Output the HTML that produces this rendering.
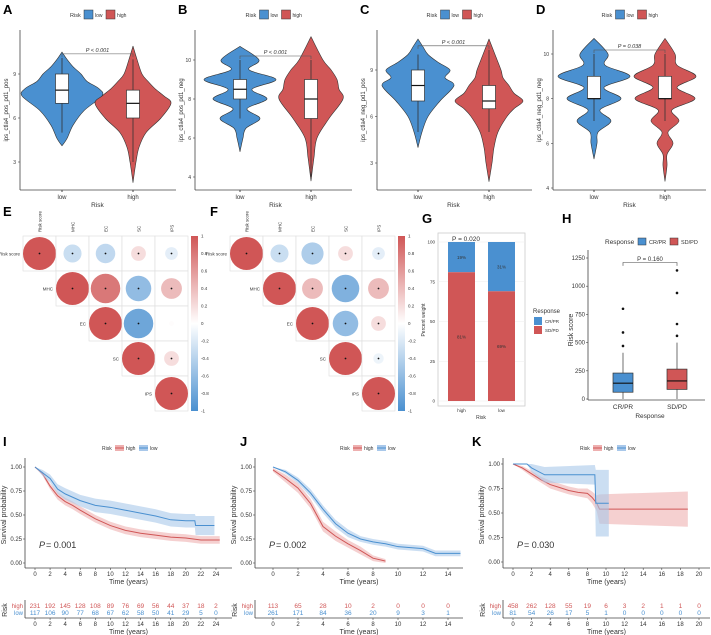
<!DOCTYPE html>
<html><head><meta charset="utf-8"><style>
body{margin:0;background:#fff;}
svg{display:block;font-family:"Liberation Sans",Arial,sans-serif;}
</style></head><body>
<svg id="fig" width="711" height="635" viewBox="0 0 711 635" xmlns="http://www.w3.org/2000/svg"></svg>
<script>
const BLUE="#4a90d0",RED="#d05656",BLUEL="#a9c8ea",REDL="#eeb0b0";
// ---- Violin data ----
const vioLabels=["A","B","C","D"];
const vioYTitles=["ips_ctla4_pos_pd1_pos","ips_ctla4_pos_pd1_neg","ips_ctla4_neg_pd1_pos","ips_ctla4_neg_pd1_neg"];
const vioP=["P < 0.001","P < 0.001","P < 0.001","P = 0.038"];
const vioTicks=[[3,6,9],[4,6,8,10],[3,6,9],[4,6,8,10]];
const lowA=[[4.1,0],[4.6,5],[5.5,11],[6.5,22],[7.5,40],[8,37],[8.5,25],[9,19],[9.5,11],[10,5],[10.5,0]];
const highA=[[1.6,0],[3,3],[4,6],[5,13],[6,28],[7,38],[7.5,31],[8,22],[8.5,15],[9,9],[10,4],[10.9,0]];
const lowB=[[5.3,0],[6,3],[6.5,6],[7,20],[7.5,7],[8,27],[8.5,12],[9,36],[9.5,9],[10,19],[10.7,0]];
const highB=[[3.8,0],[5,3],[6,6],[7,18],[8,32],[8.5,28],[9,26],[9.5,20],[10,12],[11.2,0]];
const lowC=[[4,0],[5,4],[6,10],[7,22],[8,36],[8.5,27],[9,32],[9.5,20],[10,10],[10.5,5],[11,0]];
const highC=[[1.8,0],[3,3],[4,5],[5,9],[6,18],[6.5,25],[7,34],[7.5,25],[8,20],[8.5,14],[9,12],[10,6],[11,0]];
const lowD=[[5.3,0],[6,3],[6.5,4],[7,17],[7.5,6],[8,27],[8.5,10],[9,36],[9.5,11],[10,14],[10.7,0]];
const highD=[[4.3,0],[5,2],[5.5,2],[6,8],[6.5,3],[7,14],[7.5,7],[8,30],[8.5,12],[9,31],[9.5,12],[10,10],[10.7,0]];
const vioData=[[lowA,highA],[lowB,highB],[lowC,highC],[lowD,highD]];
const boxLow=[[5,7,7.9,9,10.1],[7,8,8.5,9,10],[5,7,8,9,10],[7,8,8,9,10]];
const boxHigh=[[3,6,7,7.9,10],[4,7,8,9,10],[5,6.5,7,8,10.3],[7,8,8,9,10]];
const vioLay=[[20,176,62,133,[9,74],[3,162]],[195,352,240,311,[10,60],[4,177]],[377,532,418,489,[9,70],[3,163]],[553,706,594,665,[10,54],[4,188]]];

// ---- Correlation data ----
const corrVars=["Risk score","MHC","EC","SC","IPS"];
const corrE=[[1,-0.3,-0.35,0.2,-0.15],[0,1,0.8,-0.6,0.4],[0,0,1,-0.8,0.02],[0,0,0,1,0.2],[0,0,0,0,1]];
const corrF=[[1,-0.3,-0.45,0.2,-0.15],[0,1,0.4,-0.7,0.4],[0,0,1,-0.6,0.2],[0,0,0,1,-0.1],[0,0,0,0,1]];
const cbTicks=[1,0.8,0.6,0.4,0.2,0,-0.2,-0.4,-0.6,-0.8,-1];

// ---- G data ----
const gCats=["high","low"];
const gCR=[19,31];
const gSD=[81,69];
const gTicks=[0,25,50,75,100];
// ---- H data ----
const hCats=["CR/PR","SD/PD"];
const hBox=[[0,60,140,230,410],[0,85,160,265,500]];
const hOut=[[470,590,800],[560,665,940,1140]];
const hTicks=[0,250,500,750,1000,1250];

// ---- KM data ----
const kmI_high=[[0,1],[1,0.93],[2,0.8],[3,0.7],[4,0.64],[5,0.6],[6,0.55],[8,0.46],[10,0.39],[12,0.34],[14,0.31],[16,0.29],[18,0.27],[20,0.26],[22,0.24],[24.5,0.24]];
const kmI_low=[[0,1],[1,0.94],[2,0.88],[3,0.77],[4,0.72],[6,0.65],[8,0.6],[10,0.58],[12,0.55],[14,0.52],[16,0.49],[18,0.45],[20,0.44],[21.2,0.44],[21.3,0.39],[23.8,0.39]];
const kmJ_high=[[0,0.97],[1,0.88],[2,0.78],[3,0.62],[3.5,0.5],[4,0.38],[5,0.28],[6,0.2],[7,0.13],[8,0.05],[9,0.02]];
const kmJ_low=[[0,1],[1,0.95],[2,0.86],[3,0.73],[4,0.56],[5,0.41],[6,0.31],[7,0.25],[8,0.22],[9,0.2],[10,0.17],[12,0.15],[13,0.1],[15,0.1]];
const kmK_high=[[0,1],[1,0.96],[2,0.9],[3,0.84],[4,0.79],[5,0.76],[6,0.73],[7,0.71],[8,0.7],[8.5,0.66],[9,0.6],[9.3,0.54],[18.8,0.54]];
const kmK_low=[[0,1],[1.5,1],[2,0.96],[3.4,0.89],[8.8,0.89],[8.9,0.6],[10.3,0.6]];
// confidence half-widths per point
const bandI_high=[0,0.02,0.03,0.04,0.04,0.04,0.04,0.04,0.04,0.04,0.04,0.04,0.04,0.04,0.04,0.04];
const bandI_low=[0,0.03,0.04,0.05,0.06,0.06,0.07,0.07,0.07,0.07,0.07,0.07,0.07,0.07,0.1,0.1];
const bandJ_high=[0.02,0.04,0.05,0.05,0.05,0.05,0.05,0.04,0.04,0.03,0.02];
const bandJ_low=[0,0.02,0.03,0.04,0.04,0.04,0.04,0.03,0.03,0.03,0.03,0.03,0.03,0.03];
const bandK_high=[0,0.02,0.03,0.03,0.04,0.04,0.04,0.04,0.05,0.06,0.08,0.15,0.18];
const bandK_low=[0,0,0.04,0.08,0.1,0.34,0.34];
const kmP=["0.001","0.002","0.030"];
const riskI_high=[231,192,145,128,108,89,76,69,56,44,37,18,2];
const riskI_low=[117,106,90,77,68,67,62,58,50,41,29,5,0];
const riskJ_high=[113,65,28,10,2,0,0,0];
const riskJ_low=[261,171,84,36,20,9,3,1];
const riskK_high=[458,262,128,55,19,6,3,2,1,1,0];
const riskK_low=[81,54,26,17,5,1,0,0,0,0,0];
const kmLay=[{ax:25,x0:35,xs:7.54,xmax:24,step:2,end:232,y1:467,y0:563,lbl:"I",lx:3,leg:102,hi:kmI_high,lo:kmI_low,bh:bandI_high,bl:bandI_low,rh:riskI_high,rl:riskI_low},
 {ax:255,x0:273,xs:12.5,xmax:14,step:2,end:463,y1:467,y0:563,lbl:"J",lx:240,leg:340,hi:kmJ_high,lo:kmJ_low,bh:bandJ_high,bl:bandJ_low,rh:riskJ_high,rl:riskJ_low},
 {ax:503,x0:513,xs:9.3,xmax:20,step:2,end:710,y1:464,y0:562,lbl:"K",lx:472,leg:580,hi:kmK_high,lo:kmK_low,bh:bandK_high,bl:bandK_low,rh:riskK_high,rl:riskK_low}];

const svg=document.getElementById('fig');
const NS="http://www.w3.org/2000/svg";
function el(tag,attrs,parent){const e=document.createElementNS(NS,tag);for(const k in attrs)e.setAttribute(k,attrs[k]);(parent||svg).appendChild(e);return e;}
function txt(x,y,s,size,attrs,parent){const t=el('text',Object.assign({x:x,y:y,'font-size':size,fill:'#333'},attrs||{}),parent);t.textContent=s;return t;}
function smooth(P){
  let d="";
  for(let i=0;i<P.length-1;i++){
    const p0=P[Math.max(0,i-1)],p1=P[i],p2=P[i+1],p3=P[Math.min(P.length-1,i+2)];
    const c1=[p1[0]+(p2[0]-p0[0])/6,p1[1]+(p2[1]-p0[1])/6],c2=[p2[0]-(p3[0]-p1[0])/6,p2[1]-(p3[1]-p1[1])/6];
    d+=` C${c1[0]},${c1[1]} ${c2[0]},${c2[1]} ${p2[0]},${p2[1]}`;
  }
  return d;
}

// ===== Violins =====
vioLay.forEach((L,i)=>{
  const g=el('g',{});
  
  
  const [ax,aend,cl,ch,p1,p2]=L;
  const sc=(p2[1]-p1[1])/(p2[0]-p1[0]);
  const Y=v=>p1[1]+(v-p1[0])*sc;
  const pl=txt(ax-17,14,vioLabels[i],13,{'font-weight':'bold',fill:'#000'},g);
  
  const lx=(ax+aend)/2-28;
  txt(lx,17,"Risk",5.5,{},g);
  el('rect',{x:lx+14,y:10,width:9,height:9,fill:BLUE,stroke:'#333','stroke-width':0.5},g);
  txt(lx+25,17,"low",5,{},g);
  el('rect',{x:lx+36,y:10,width:9,height:9,fill:RED,stroke:'#333','stroke-width':0.5},g);
  txt(lx+47,17,"high",5,{},g);
  el('line',{x1:ax,y1:30,x2:ax,y2:190,stroke:'#444','stroke-width':0.8},g);
  el('line',{x1:ax,y1:190,x2:aend,y2:190,stroke:'#444','stroke-width':0.8},g);
  vioTicks[i].forEach(t=>{el('line',{x1:ax-2,y1:Y(t),x2:ax,y2:Y(t),stroke:'#444','stroke-width':0.6},g);txt(ax-4,Y(t)+2,String(t),5,{'text-anchor':'end'},g);});
  txt(0,0,vioYTitles[i],6,{transform:`translate(${ax-12},110) rotate(-90)`,'text-anchor':'middle'},g);
  [cl,ch].forEach((cx,j)=>{el('line',{x1:cx,y1:190,x2:cx,y2:192,stroke:'#444'},g);txt(cx,199,j?"high":"low",6,{'text-anchor':'middle'},g);});
  txt((cl+ch)/2,207,"Risk",6.5,{'text-anchor':'middle'},g);
  [[cl,vioData[i][0],BLUE,boxLow[i]],[ch,vioData[i][1],RED,boxHigh[i]]].forEach(([cx,prof,col,bx],j)=>{
    const right=prof.map(p=>[cx+p[1],Y(p[0])]);
    const left=prof.slice().reverse().map(p=>[cx-p[1],Y(p[0])]);
    const d="M"+right[0][0]+","+right[0][1]+smooth(right)+smooth(left)+"Z";
    const v=el('path',{d:d,fill:col,stroke:'#333','stroke-width':0.6,'stroke-linejoin':'round'},g);
    
    el('line',{x1:cx,y1:Y(bx[0]),x2:cx,y2:Y(bx[4]),stroke:'#333','stroke-width':0.8},g);
    const b=el('rect',{x:cx-6.5,y:Y(bx[3]),width:13,height:Y(bx[1])-Y(bx[3]),fill:'#fff',stroke:'#333','stroke-width':0.7},g);
    
    el('line',{x1:cx-6.5,y1:Y(bx[2]),x2:cx+6.5,y2:Y(bx[2]),stroke:'#111','stroke-width':1.2},g);
  });
  const top=Y(Math.max(boxLow[i][4],boxHigh[i][4]))-4;
  el('path',{d:`M${cl},${top+3} V${top} H${ch} V${top+3}`,fill:'none',stroke:'#555','stroke-width':0.6},g);
  txt((cl+ch)/2,top-2,vioP[i],5.5,{'text-anchor':'middle','font-style':'italic'},g);
});

// ===== Correlation =====
function corrCol(v){const a=Math.abs(v);const base=v>0?[208,86,86]:[74,144,208];const c=base.map(x=>Math.round(255-(255-x)*a));return `rgb(${c})`;}
function corrPanel(x0,y0,cw,ch,M,lbl,name){
  const g=el('g',{});
  
  
  txt(x0-20,y0-20,lbl,13,{'font-weight':'bold',fill:'#000'},g);
  corrVars.forEach((v,c)=>{txt(0,0,v,4.5,{transform:`translate(${x0+c*cw+cw/2+2},${y0-4}) rotate(-90)`},g);
    txt(x0+c*cw-3,y0+c*ch+ch/2+2,v,4.5,{'text-anchor':'end'},g);});
  for(let r=0;r<5;r++)for(let c=r;c<5;c++){
    el('rect',{x:x0+c*cw,y:y0+r*ch,width:cw,height:ch,fill:'#fff',stroke:'#ddd','stroke-width':0.6},g);
    const val=M[r][c];
    const circ=el('circle',{cx:x0+c*cw+cw/2,cy:y0+r*ch+ch/2,r:Math.sqrt(Math.abs(val))*cw/2,fill:corrCol(val)},g);
    
    if(Math.abs(val)>0.05)el('circle',{cx:x0+c*cw+cw/2,cy:y0+r*ch+ch/2,r:0.9,fill:'#111'},g);
  }
  const cbx=x0+5*cw+3,H=5*ch;
  const gid='cb'+lbl;
  const lg=el('linearGradient',{id:gid,x1:0,y1:0,x2:0,y2:1},el('defs',{},g));
  [[0,RED],[0.5,'#ffffff'],[1,BLUE]].forEach(s=>el('stop',{offset:s[0],'stop-color':s[1]},lg));
  el('rect',{x:cbx,y:y0,width:7,height:H,fill:`url(#${gid})`},g);
  cbTicks.forEach(t=>{const yy=y0+(1-t)/2*H;txt(cbx+10,yy+1.5,String(t),4.5,{},g);});
}
corrPanel(23,236,33,35,corrE,"E","corr-matrix-e");
corrPanel(230,236,33,35,corrF,"F","corr-matrix-f");

// ===== G stacked bars =====
(function(){
  const g=el('g',{});
  
  
  txt(422,223,"G",13,{'font-weight':'bold',fill:'#000'},g);
  const x0=438,x1=525,top=233,bot=406;
  const Y=v=>401-v*(401-242)/100;
  el('rect',{x:x0,y:top,width:x1-x0,height:bot-top,fill:'#fff',stroke:'#ccc','stroke-width':0.8},g);
  gTicks.forEach(t=>{el('line',{x1:x0,y1:Y(t),x2:x1,y2:Y(t),stroke:'#eee','stroke-width':0.6},g);txt(x0-3,Y(t)+1.5,String(t),4.5,{'text-anchor':'end'},g);});
  txt(466,241,"P = 0.020",6.5,{'text-anchor':'middle'},g);
  gCats.forEach((c,i)=>{
    const bx=448+i*40,bw=27;
    const r1=el('rect',{x:bx,y:Y(100),width:bw,height:Y(gSD[i])-Y(100),fill:BLUE},g);
    
    const r2=el('rect',{x:bx,y:Y(gSD[i]),width:bw,height:Y(0)-Y(gSD[i]),fill:RED},g);
    
    txt(bx+bw/2,(Y(100)+Y(gSD[i]))/2+2,gCR[i]+"%",4.5,{'text-anchor':'middle'},g);
    txt(bx+bw/2,(Y(0)+Y(gSD[i]))/2+2,gSD[i]+"%",4.5,{'text-anchor':'middle'},g);
    txt(bx+bw/2,412,c,4.5,{'text-anchor':'middle'},g);
  });
  txt(481,419,"Risk",5,{'text-anchor':'middle'},g);
  txt(0,0,"Percent weight",5,{transform:'translate(425,320) rotate(-90)','text-anchor':'middle'},g);
  txt(533,313,"Response",6,{},g);
  el('rect',{x:534,y:317,width:8,height:8,fill:BLUE},g);txt(545,323,"CR/PR",4.5,{},g);
  el('rect',{x:534,y:326,width:8,height:8,fill:RED},g);txt(545,332,"SD/PD",4.5,{},g);
})();

// ===== H boxplot =====
(function(){
  const g=el('g',{});
  
  
  txt(562,223,"H",13,{'font-weight':'bold',fill:'#000'},g);
  const ax=588,Y=v=>399-v*(399-258)/1250;
  txt(605,244,"Response",6.5,{},g);
  el('rect',{x:638,y:238,width:8,height:7,fill:BLUE,stroke:'#333','stroke-width':0.5},g);txt(649,244,"CR/PR",5.5,{},g);
  el('rect',{x:670,y:238,width:8,height:7,fill:RED,stroke:'#333','stroke-width':0.5},g);txt(681,244,"SD/PD",5.5,{},g);
  el('line',{x1:ax,y1:250,x2:ax,y2:400,stroke:'#444','stroke-width':0.8},g);
  el('line',{x1:ax,y1:400,x2:705,y2:400,stroke:'#444','stroke-width':0.8},g);
  hTicks.forEach(t=>{el('line',{x1:ax-2,y1:Y(t),x2:ax,y2:Y(t),stroke:'#444','stroke-width':0.6},g);txt(ax-3,Y(t)+2,String(t),6,{'text-anchor':'end'},g);});
  txt(0,0,"Risk score",7,{transform:'translate(573,330) rotate(-90)','text-anchor':'middle'},g);
  hCats.forEach((c,i)=>{
    const cx=623+i*54,b=hBox[i],col=i?RED:BLUE;
    el('line',{x1:cx,y1:Y(b[0]),x2:cx,y2:Y(b[4]),stroke:'#333','stroke-width':0.7},g);
    const r=el('rect',{x:cx-10,y:Y(b[3]),width:20,height:Y(b[1])-Y(b[3]),fill:col,stroke:'#333','stroke-width':0.7},g);
    
    el('line',{x1:cx-10,y1:Y(b[2]),x2:cx+10,y2:Y(b[2]),stroke:'#111','stroke-width':1.2},g);
    hOut[i].forEach(o=>el('circle',{cx:cx,cy:Y(o),r:1.3,fill:'#111'},g));
    txt(cx,409,c,6.5,{'text-anchor':'middle'},g);
  });
  txt(650,418,"Response",6.5,{'text-anchor':'middle'},g);
  el('path',{d:`M623,${Y(1180)} V${Y(1210)} H677 V${Y(1180)}`,fill:'none',stroke:'#444','stroke-width':0.6},g);
  txt(650,Y(1225),"P = 0.160",6,{'text-anchor':'middle'},g);
})();

// ===== KM =====
kmLay.forEach((L,i)=>{
  const g=el('g',{});
  
  
  const X=t=>L.x0+t*L.xs,Y=s=>L.y0-s*(L.y0-L.y1);
  txt(L.lx,446,L.lbl,13,{'font-weight':'bold',fill:'#000'},g);
  txt(L.leg,450,"Risk",5,{},g);
  el('rect',{x:L.leg+13,y:445,width:9,height:6,fill:REDL},g);el('line',{x1:L.leg+13,y1:448,x2:L.leg+22,y2:448,stroke:RED},g);txt(L.leg+24,450,"high",5,{},g);
  el('rect',{x:L.leg+37,y:445,width:9,height:6,fill:BLUEL},g);el('line',{x1:L.leg+37,y1:448,x2:L.leg+46,y2:448,stroke:BLUE},g);txt(L.leg+48,450,"low",5,{},g);
  el('line',{x1:L.ax,y1:458,x2:L.ax,y2:568,stroke:'#444','stroke-width':0.8},g);
  el('line',{x1:L.ax,y1:568,x2:L.end,y2:568,stroke:'#444','stroke-width':0.8},g);
  [0,0.25,0.5,0.75,1].forEach(s=>{el('line',{x1:L.ax-2,y1:Y(s),x2:L.ax,y2:Y(s),stroke:'#444','stroke-width':0.6},g);txt(L.ax-3,Y(s)+2,s.toFixed(2),6,{'text-anchor':'end'},g);});
  txt(0,0,"Survival probability",7,{transform:`translate(${L.ax-19},515) rotate(-90)`,'text-anchor':'middle'},g);
  for(let t=0;t<=L.xmax;t+=L.step){el('line',{x1:X(t),y1:568,x2:X(t),y2:570,stroke:'#444','stroke-width':0.6},g);txt(X(t),576,String(t),6,{'text-anchor':'middle'},g);
    el('line',{x1:X(t),y1:618,x2:X(t),y2:620,stroke:'#444','stroke-width':0.6},g);txt(X(t),626,String(t),6,{'text-anchor':'middle'},g);}
  txt((L.ax+L.end)/2,584,"Time (years)",7,{'text-anchor':'middle'},g);
  txt((L.ax+L.end)/2,634,"Time (years)",7,{'text-anchor':'middle'},g);
  [[L.hi,RED,REDL,L.bh,'high'],[L.lo,BLUE,BLUEL,L.bl,'low']].forEach(([pts,col,lc,bw,nm])=>{
    const up=pts.map((p,k)=>[X(p[0]),Y(Math.min(1,p[1]+bw[k]))]);
    const dn=pts.map((p,k)=>[X(p[0]),Y(Math.max(0,p[1]-bw[k]))]).reverse();
    const d="M"+up.map(p=>p.join(",")).join(" L")+" L"+dn.map(p=>p.join(",")).join(" L")+"Z";
    el('path',{d:d,fill:lc,opacity:0.6},g);
    const s="M"+pts.map(p=>X(p[0])+","+Y(p[1])).join(" L");
    const ln=el('path',{d:s,fill:'none',stroke:col,'stroke-width':1},g);
    
  });
  txt(L.ax+14,548,"P",9,{'font-style':'italic'},g);
  txt(L.ax+21,548," = "+kmP[i],9,{},g);
  el('line',{x1:L.ax,y1:600,x2:L.ax,y2:618,stroke:'#444','stroke-width':0.8},g);
  el('line',{x1:L.ax,y1:618,x2:L.end,y2:618,stroke:'#444','stroke-width':0.8},g);
  txt(L.ax-2,608,"high",6,{'text-anchor':'end',fill:RED},g);
  txt(L.ax-2,615,"low",6,{'text-anchor':'end',fill:BLUE},g);
  L.rh.forEach((n,k)=>txt(X(k*L.step),608,String(n),6.5,{'text-anchor':'middle',fill:RED},g));
  L.rl.forEach((n,k)=>txt(X(k*L.step),615,String(n),6.5,{'text-anchor':'middle',fill:BLUE},g));
  txt(0,0,"Risk",7,{transform:`translate(${L.ax-18},610) rotate(-90)`,'text-anchor':'middle'},g);
});
</script>
</body></html>
